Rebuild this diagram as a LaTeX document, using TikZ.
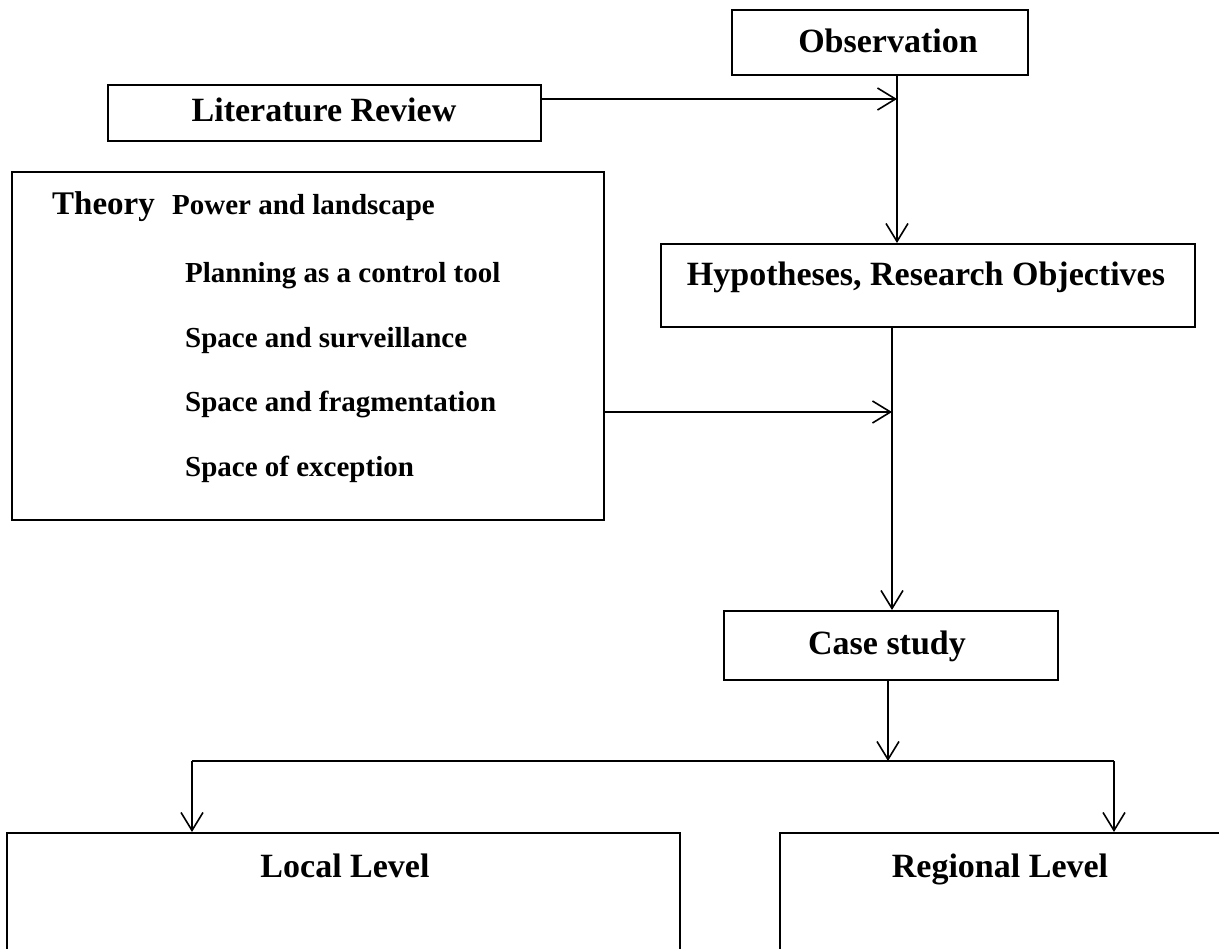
\documentclass[tikz,border=0pt]{standalone}
\usepackage{fontspec}
\setmainfont{Liberation Serif}
\usetikzlibrary{arrows.meta,calc}
\begin{document}
\begin{tikzpicture}[x=1pt,y=-1pt,
  box/.style={draw, line width=2pt, rectangle, inner sep=0pt},
  head/.style={font=\fontsize{34}{40}\selectfont\bfseries, inner sep=0pt, anchor=base},
  item/.style={font=\fontsize{29}{34}\selectfont\bfseries, inner sep=0pt, anchor=base west},
  link/.style={line width=1.6pt},
  arr/.style={link, -{Straight Barb[length=18pt,width=22pt]}}
]
\useasboundingbox[fill=white] (0,0) rectangle (1219,949);
\clip (0,0) rectangle (1219,949);

% boxes
\node[box, minimum width=296pt, minimum height=65pt] (obs) at (880,42.5) {};
\node[box, minimum width=433pt, minimum height=56pt] (lit) at (324.5,113) {};
\node[box, minimum width=592pt, minimum height=348pt] (theory) at (308,346) {};
\node[box, minimum width=534pt, minimum height=83pt] (hyp) at (928,285.5) {};
\node[box, minimum width=334pt, minimum height=69pt] (case) at (891,645.5) {};
\node[box, minimum width=673pt, minimum height=167pt] (local) at (343.5,916.5) {};
\node[box, minimum width=480pt, minimum height=167pt] (regional) at (1020,916.5) {};

% box titles
\node[head] (obstxt) at (888,53) {Observation};
\node[head] (littxt) at (324,122) {Literature Review};
\node[head] (hyptxt) at (926,286) {Hypotheses, Research Objectives};
\node[head] (casetxt) at (887,654) {Case study};
\node[head] (localtxt) at (345,877) {Local Level};
\node[head] (regtxt) at (1000,877) {Regional Level};

% theory contents
\node[item, font=\fontsize{33}{38}\selectfont\bfseries] (th) at (52,215) {Theory};
\node[item] (t1) at (172,215) {Power and landscape};
\node[item] (t2) at (185,283) {Planning as a control tool};
\node[item] (t3) at (185,348) {Space and surveillance};
\node[item] (t4) at (185,412) {Space and fragmentation};
\node[item] (t5) at (185,477) {Space of exception};

% guide coordinates for the connectors
\coordinate (sA) at (897,0);
\coordinate (sB) at (892,0);
\coordinate (sC) at (888,0);
\coordinate (litY) at (0,99);
\coordinate (fragY) at (0,412);
\coordinate (brL) at (192,761);
\coordinate (brR) at (1114,761);

% connectors
\draw[arr] (lit.east |- litY) -- (sA |- litY);
\draw[arr] (obs.south -| sA) -- (hyp.north -| sA);
\draw[arr] (hyp.south -| sB) -- (case.north -| sB);
\draw[arr] (theory.east |- fragY) -- (sB |- fragY);
\draw[arr] (case.south -| sC) -- (sC |- brL);
\draw[link] (brL) -- (brR);
\draw[arr] (brL) -- (local.north -| brL);
\draw[arr] (brR) -- (regional.north -| brR);
\end{tikzpicture}
\end{document}
